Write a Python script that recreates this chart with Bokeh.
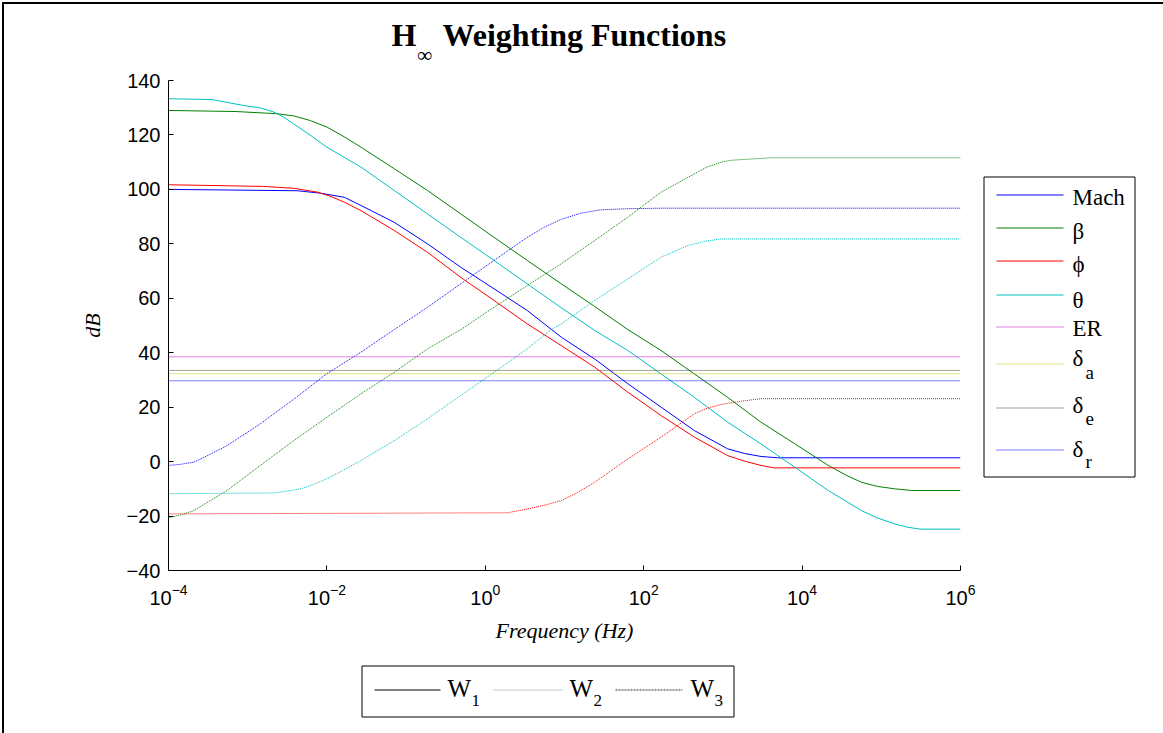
import numpy as np
from bokeh.plotting import figure
from bokeh.layouts import column, row
from bokeh.models import FixedTicker, Label
from bokeh.embed import file_html
from bokeh.resources import INLINE

# Weighting magnitudes, knots given as log10(frequency / Hz) and dB
mach_w1_logf = [-4, -2.37, -2.08, -1.78, -1.57, -1.15, -0.73, -0.31, 0.11, 0.53, 0.96, 1.38, 1.80, 2.22, 2.64, 3.06, 3.27, 3.48, 3.69, 6]
mach_w1_db = [100.0, 99.5, 98.6, 97.1, 94.1, 87.9, 80.0, 71.4, 63.5, 55.5, 45.7, 37.7, 28.6, 20.0, 11.4, 4.7, 3.0, 1.9, 1.4, 1.4]

beta_w1_logf = [-4, -3.15, -2.63, -2.42, -2.21, -2.0, -1.78, -1.57, -1.15, -0.73, -0.31, 0.11, 0.53, 0.96, 1.38, 1.80, 2.22, 2.64, 3.06, 3.48, 3.91, 4.33, 4.55, 4.75, 4.95, 5.17, 5.38, 6]
beta_w1_db = [129.0, 128.6, 127.8, 127.0, 125.3, 122.9, 119.3, 115.5, 107.6, 99.6, 91.0, 82.4, 73.9, 65.3, 57.0, 48.5, 40.8, 32.2, 23.6, 14.5, 6.5, -1.4, -4.9, -7.6, -9.1, -10.0, -10.6, -10.6]

phi_w1_logf = [-4, -2.80, -2.42, -2.12, -1.95, -1.78, -1.57, -1.15, -0.73, -0.31, 0.11, 0.53, 0.96, 1.38, 1.80, 2.22, 2.64, 3.06, 3.27, 3.48, 3.65, 6]
phi_w1_db = [101.7, 101.1, 100.4, 99.0, 97.4, 95.3, 92.2, 84.9, 76.9, 67.7, 59.2, 50.6, 42.6, 34.7, 25.5, 16.9, 9.0, 2.2, 0.2, -1.4, -2.3, -2.3]

theta_w1_logf = [-4, -3.45, -3.05, -2.85, -2.67, -2.55, -2.42, -2.2, -2.0, -1.57, -1.15, -0.73, -0.31, 0.11, 0.53, 0.96, 1.38, 1.80, 2.22, 2.64, 3.06, 3.48, 3.91, 4.33, 4.75, 4.95, 5.17, 5.33, 5.49, 6]
theta_w1_db = [133.3, 133.0, 130.8, 130.0, 128.4, 126.6, 124.1, 119.7, 115.5, 108.2, 99.6, 91.0, 82.4, 73.9, 65.3, 56.5, 48.2, 40.8, 32.2, 23.6, 14.5, 6.5, -2.1, -10.6, -18.0, -20.7, -22.9, -24.1, -24.8, -24.8]

mach_w2_logf = [-4, -3.85, -3.68, -3.5, -3.26, -2.84, -2.42, -2.0, -1.57, -1.15, -0.73, -0.31, 0.11, 0.53, 0.75, 0.96, 1.21, 1.46, 1.80, 2.22, 6]
mach_w2_db = [-1.4, -1.0, -0.2, 2.3, 5.9, 13.9, 22.9, 32.3, 40.2, 48.5, 56.7, 65.3, 73.9, 82.4, 86.2, 89.0, 91.3, 92.5, 92.9, 93.1, 93.1]

beta_w2_logf = [-4, -3.85, -3.68, -3.5, -3.26, -2.84, -2.42, -2.0, -1.57, -1.15, -0.73, -0.31, 0.11, 0.53, 0.96, 1.38, 1.80, 2.22, 2.64, 2.8, 2.98, 3.1, 3.27, 3.61, 6]
beta_w2_db = [-20.6, -19.6, -18.0, -14.8, -10.6, -1.4, 7.7, 16.3, 24.9, 32.8, 41.4, 48.5, 56.7, 64.7, 72.7, 81.2, 89.8, 99.0, 105.7, 108.2, 110.0, 110.7, 111.0, 111.6, 111.6]

phi_w2_logf = [-4, 0.28, 0.53, 0.75, 0.96, 1.17, 1.38, 1.80, 2.22, 2.64, 2.8, 2.98, 3.23, 3.48, 6]
phi_w2_db = [-19.2, -18.8, -17.4, -16.0, -14.3, -11.3, -7.6, 1.0, 9.0, 17.6, 19.6, 21.0, 22.2, 23.1, 23.1]

theta_w2_logf = [-4, -2.65, -2.33, -2.17, -2.0, -1.8, -1.57, -1.15, -0.73, -0.31, 0.11, 0.53, 0.83, 0.96, 1.38, 1.80, 2.22, 2.56, 2.77, 2.98, 6]
theta_w2_db = [-11.8, -11.5, -10.0, -8.4, -6.3, -3.3, 0.4, 7.7, 15.7, 24.3, 32.8, 41.4, 48.5, 50.6, 59.2, 67.1, 75.1, 79.4, 80.9, 81.8, 81.8]

# constant weights on the remaining channels (dB)
er_db = 38.5
delta_a_db = 32.3
delta_e_db = 33.5
delta_r_db = 29.7

freq_span = [1e-4, 1e6]
x_ticks = [1e-4, 1e-2, 1e0, 1e2, 1e4, 1e6]
y_ticks = [-40, -20, 0, 20, 40, 60, 80, 100, 120, 140]

# key entries: (symbol, subscript)
channel_names = [("Mach", ""), ("\u03b2", ""), ("\u03d5", ""), ("\u03b8", ""),
                 ("ER", ""), ("\u03b4", "a"), ("\u03b4", "e"), ("\u03b4", "r")]
weight_names = [("W", "1"), ("W", "2"), ("W", "3")]

BLUE, GREEN, RED, CYAN = "#0000ff", "#008000", "#ff0000", "#00bfbf"
MAGENTA, YELLOW, GRAY = "#bf00bf", "#bfbf00", "#404040"
DOT = "1 1"

SERIF = "Liberation Serif"
SANS = "Liberation Sans"


def hz(logf):
    return (10.0 ** np.asarray(logf, dtype=float)).tolist()


def bare_figure(width, height, xr, yr):
    # axis-less figure; its ranges are chosen so data units equal page pixels
    f = figure(width=width, height=height, x_range=xr, y_range=yr,
               output_backend="svg", toolbar_location=None, title=None,
               x_axis_location=None, y_axis_location=None, min_border=0)
    f.xgrid.visible = False
    f.ygrid.visible = False
    f.outline_line_color = None
    f.background_fill_color = "white"
    f.border_fill_color = "white"
    return f


def put_text(fig, x, y, text, size, style="normal", align="left"):
    # y is the vertical centre of the capitals
    fig.add_layout(Label(x=x, y=y, text=text, text_align=align,
                         text_baseline="middle", text_font=SERIF,
                         text_font_style=style, text_font_size=size,
                         text_color="black"))


def line_kw(color, dash):
    kw = dict(line_color=color, line_width=1)
    if dash:
        kw["line_dash"] = dash
    return kw


# ---- main axes -----------------------------------------------------------
p = figure(width=976, height=582, x_axis_type="log",
           x_range=(1e-4, 1e6), y_range=(-40, 140),
           output_backend="svg", toolbar_location=None, title=None,
           min_border_left=164, min_border_right=20,
           min_border_top=12, min_border_bottom=80)
p.xgrid.visible = False
p.ygrid.visible = False
p.outline_line_color = None
p.background_fill_color = "white"
p.border_fill_color = "white"

# W1: low-pass shaped weights (solid)
p.line(hz(mach_w1_logf), mach_w1_db, line_color=BLUE, line_width=1)
p.line(hz(beta_w1_logf), beta_w1_db, line_color=GREEN, line_width=1)
p.line(hz(phi_w1_logf), phi_w1_db, line_color=RED, line_width=1)
p.line(hz(theta_w1_logf), theta_w1_db, line_color=CYAN, line_width=1)

# W2: high-pass shaped weights (dotted)
p.line(hz(mach_w2_logf), mach_w2_db, line_color=BLUE, line_width=1, line_dash=DOT)
p.line(hz(beta_w2_logf), beta_w2_db, line_color=GREEN, line_width=1, line_dash=DOT)
p.line(hz(phi_w2_logf), phi_w2_db, line_color=RED, line_width=1, line_dash=DOT)
p.line(hz(theta_w2_logf), theta_w2_db, line_color=CYAN, line_width=1, line_dash=DOT)

# constant weights
p.line(freq_span, [er_db, er_db], line_color=MAGENTA, line_width=1, line_dash=DOT)
p.line(freq_span, [delta_a_db, delta_a_db], line_color=YELLOW, line_width=1, line_dash=DOT)
p.line(freq_span, [delta_e_db, delta_e_db], line_color=GRAY, line_width=1, line_dash=DOT)
p.line(freq_span, [delta_r_db, delta_r_db], line_color=BLUE, line_width=1, line_dash=DOT)

for ax in (p.xaxis[0], p.yaxis[0]):
    ax.axis_line_color = "black"
    ax.axis_line_width = 1
    ax.major_tick_in = 5
    ax.major_tick_out = 0
    ax.minor_tick_in = 0
    ax.minor_tick_out = 0
    ax.major_tick_line_color = "black"
    ax.major_label_text_font = SANS
    ax.major_label_text_font_size = "20px"
    ax.major_label_text_color = "black"
    ax.axis_label_text_font = SERIF
    ax.axis_label_text_font_style = "italic"
    ax.axis_label_text_font_size = "22px"
    ax.axis_label_text_color = "black"

p.xaxis.ticker = FixedTicker(ticks=x_ticks)
p.yaxis.ticker = FixedTicker(ticks=y_ticks)
p.xaxis.axis_label = "Frequency (Hz)"
p.yaxis.axis_label = "dB"
p.xaxis.major_label_standoff = 13
p.xaxis.axis_label_standoff = 10
p.yaxis.major_label_standoff = 8
p.yaxis.axis_label_standoff = 19

# ---- title strip (page pixels 4..1163 x 4..68) ---------------------------
top = bare_figure(1159, 64, (4, 1163), (68, 4))
put_text(top, 416, 34, "H", "32px", "bold", "right")
put_text(top, 417, 54, "\u221e", "21px", "bold")
put_text(top, 442, 34, "Weighting Functions", "32px", "bold")

# ---- channel key: the frame of this strip lines up with the main frame ---
side = bare_figure(183, 582, (980, 1163), (570, 80))
side.quad(left=983.5, right=1134.5, top=176.5, bottom=476.5,
          fill_color="white", line_color="black", line_width=1)
channel_styles = [(BLUE, None), (GREEN, None), (RED, None), (CYAN, None),
                  (MAGENTA, DOT), (YELLOW, DOT), (GRAY, DOT), (BLUE, DOT)]
key_line_y = [194.5, 227.5, 260.5, 294.5, 326.5, 363.5, 407.5, 449.5]
key_text_y = [197, 231, 264, 300, 328, 358, 405, 449]
key_sub_y = [0, 0, 0, 0, 0, 372, 418, 461]
for (name, sub), (col, dash), ly, ty, sy in zip(channel_names, channel_styles,
                                                key_line_y, key_text_y, key_sub_y):
    side.line([996, 1063], [ly, ly], **line_kw(col, dash))
    put_text(side, 1072, ty, name, "23px")
    if sub:
        put_text(side, 1085, sy, sub, "19px")

# ---- weight key (page pixels 4..1163 x 650..733) -------------------------
bottom = bare_figure(1159, 83, (4, 1163), (733, 650))
bottom.quad(left=361.5, right=733.5, top=665.5, bottom=716.5,
            fill_color="white", line_color="black", line_width=1)
weight_styles = [("black", None), ("#8c8c8c", DOT), ("#303030", "2 1")]
weight_line_x = [(374, 440), (493, 562), (615, 682)]
weight_text_x = [447, 569, 690]
for (name, sub), (col, dash), (x0, x1), tx in zip(weight_names, weight_styles,
                                                  weight_line_x, weight_text_x):
    bottom.line([x0, x1], [689.5, 689.5], **line_kw(col, dash))
    put_text(bottom, tx, 688, name, "25px")
    put_text(bottom, tx + 24, 700, sub, "17px")

page = column(top, row(p, side, spacing=0), bottom, spacing=0)
page.styles = {"margin-left": "2px", "margin-top": "2px",
               "border-left": "2px solid #000", "border-top": "2px solid #000"}

open("out.html", "w").write(file_html(page, INLINE))
